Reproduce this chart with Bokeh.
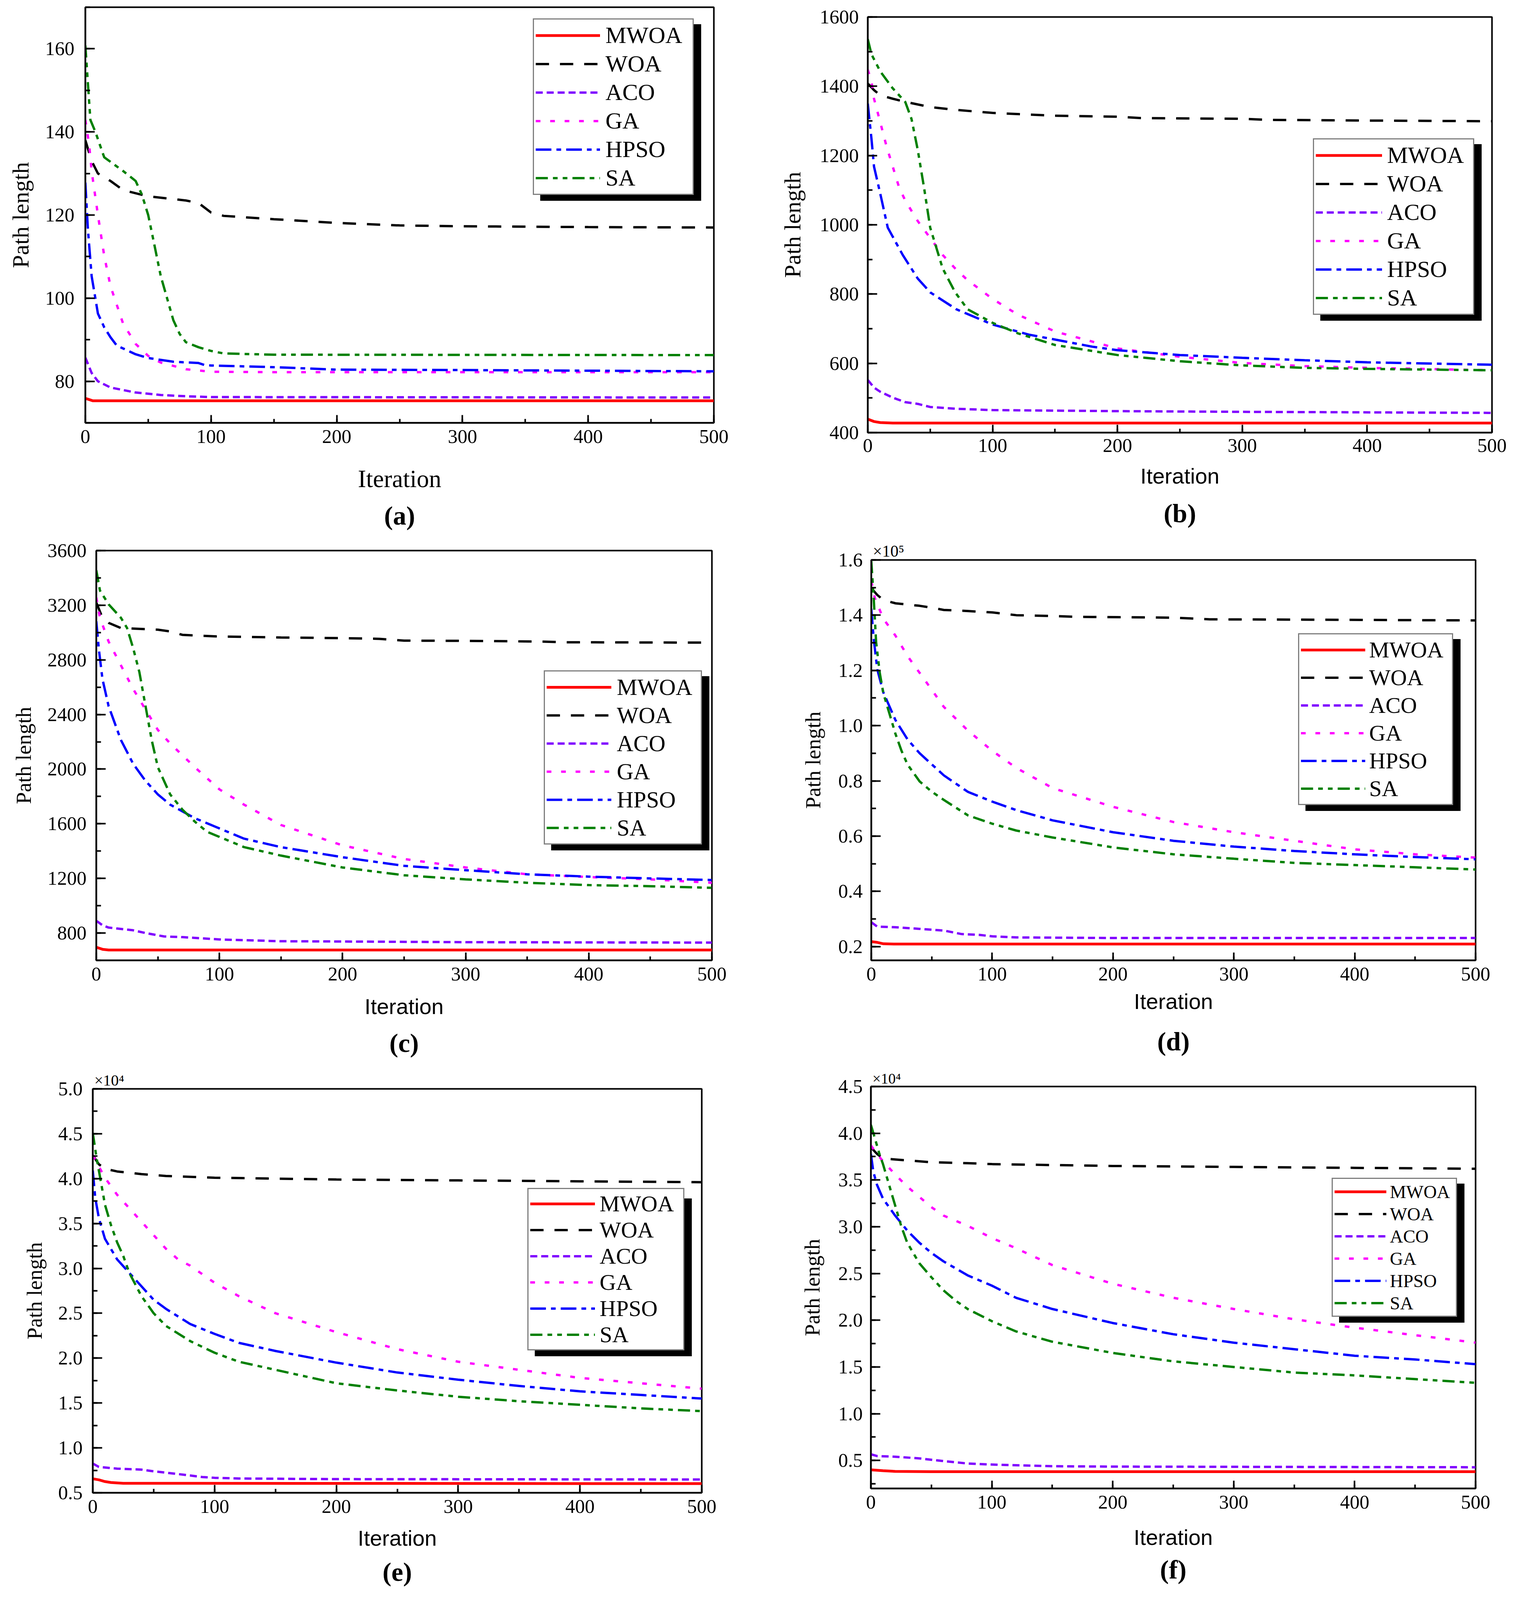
from bokeh.plotting import figure
from bokeh.models import (Range1d, SingleIntervalTicker, PrintfTickFormatter,
                          Legend, LegendItem, Title)
from bokeh.layouts import row, column
from bokeh.embed import file_html
from bokeh.resources import INLINE

# ---------------- series names and styles ----------------
NAMES = ["MWOA", "WOA", "ACO", "GA", "HPSO", "SA"]
COLORS = ["#FF0000", "#000000", "#8000FF", "#FF00FF", "#0000FF", "#008000"]
DASHES = ["solid", "34 28", "18 10", "12 25", "40 13 12 13", "31 13 12 13 12 13"]
WIDTHS = [7, 6, 6, 6, 6, 6]

# ---------------- panel (a) ----------------
A_IT_MWOA = [0, 3, 6, 500]
A_MWOA = [75.9, 75.6, 75.3, 75.3]
A_IT_WOA = [0, 5, 10, 20, 30, 50, 80, 90, 100, 110, 150, 200, 250, 300, 400, 500]
A_WOA = [138, 133, 130, 128.2, 126.0, 124.5, 123.5, 122.9, 120.6, 119.8, 119.0, 118.1, 117.5, 117.3, 117.1, 117.0]
A_IT_ACO = [0, 5, 10, 20, 40, 60, 80, 100, 500]
A_ACO = [85.7, 82, 80, 78.5, 77.3, 76.7, 76.4, 76.2, 76.1]
A_IT_GA = [0, 3, 5, 10, 15, 20, 30, 40, 50, 60, 80, 100, 150, 500]
A_GA = [142.9, 137, 130.6, 120, 110.2, 102.9, 93.9, 89, 86.1, 84.5, 82.9, 82.3, 82.2, 82.2]
A_IT_HPSO = [0, 2, 5, 10, 15, 20, 25, 40, 50, 70, 90, 95, 100, 150, 200, 300, 500]
A_HPSO = [127.8, 116.7, 105.3, 96.3, 93, 90.6, 88.6, 86.5, 85.6, 84.7, 84.4, 83.9, 83.8, 83.4, 82.8, 82.7, 82.4]
A_IT_SA = [0, 2, 4, 8, 15, 30, 40, 45, 50, 55, 60, 70, 75, 80, 90, 100, 110, 150, 500]
A_SA = [160.8, 151.8, 142.9, 140, 133.9, 130.6, 128.2, 124.9, 120, 112.7, 105.3, 94.7, 91.4, 89.4, 88.2, 87.3, 86.7, 86.4, 86.3]

# ---------------- panel (b) ----------------
B_IT_MWOA = [0, 5, 10, 20, 500]
B_MWOA = [439, 432, 429, 427.5, 427.5]
B_IT_WOA = [0, 5, 10, 20, 30, 50, 70, 100, 150, 200, 220, 300, 320, 400, 500]
B_WOA = [1408, 1389, 1374, 1364, 1355, 1340, 1332, 1323, 1315, 1312, 1308, 1306, 1303, 1301, 1299]
B_IT_ACO = [0, 5, 10, 20, 30, 40, 50, 70, 100, 200, 300, 500]
B_ACO = [552, 530, 518, 501, 488, 483, 474, 469, 465, 462, 460, 457]
B_IT_GA = [0, 3, 5, 10, 15, 20, 25, 30, 40, 50, 60, 70, 80, 100, 120, 150, 200, 250, 300, 350, 400, 500]
B_GA = [1448, 1413, 1364, 1296, 1227, 1168, 1109, 1070, 1011, 962, 913, 874, 840, 786, 741, 692, 643, 619, 601, 592, 587, 580]
B_IT_HPSO = [0, 3, 5, 10, 16, 28, 40, 50, 71, 100, 129, 180, 200, 250, 300, 350, 400, 500]
B_HPSO = [1350, 1247, 1168, 1090, 992, 913, 845, 805, 756, 712, 683, 648, 638, 624, 616, 609, 603, 596]
B_IT_SA = [0, 3, 10, 20, 30, 35, 40, 45, 50, 60, 70, 80, 100, 120, 150, 200, 250, 300, 350, 400, 500]
B_SA = [1536, 1492, 1443, 1394, 1355, 1306, 1217, 1109, 992, 874, 805, 756, 717, 687, 653, 624, 606, 594, 587, 584, 580]

# ---------------- panel (c) ----------------
C_IT_MWOA = [0, 5, 10, 500]
C_MWOA = [696, 681, 676, 676]
C_IT_WOA = [0, 5, 10, 20, 50, 60, 70, 100, 150, 200, 230, 250, 300, 360, 380, 500]
C_WOA = [3220, 3108, 3071, 3033, 3021, 3008, 2983, 2971, 2964, 2959, 2954, 2941, 2939, 2934, 2929, 2926]
C_IT_ACO = [0, 5, 10, 30, 40, 55, 70, 100, 150, 200, 300, 500]
C_ACO = [890, 857, 840, 820, 800, 775, 770, 753, 740, 738, 733, 730]
C_IT_GA = [0, 3, 10, 20, 30, 40, 50, 60, 80, 100, 120, 150, 200, 250, 300, 350, 400, 450, 500]
C_GA = [3257, 3108, 2934, 2760, 2586, 2436, 2287, 2188, 2014, 1852, 1740, 1591, 1442, 1342, 1280, 1230, 1210, 1193, 1168]
C_IT_HPSO = [0, 2, 5, 10, 15, 20, 30, 40, 50, 60, 80, 100, 120, 150, 200, 250, 300, 350, 400, 450, 500]
C_HPSO = [3083, 2884, 2660, 2461, 2337, 2213, 2038, 1914, 1815, 1740, 1641, 1566, 1491, 1429, 1355, 1292, 1260, 1230, 1213, 1200, 1188]
C_IT_SA = [0, 3, 10, 20, 25, 30, 35, 40, 45, 50, 60, 70, 80, 90, 100, 120, 150, 200, 250, 300, 350, 400, 450, 500]
C_SA = [3456, 3307, 3207, 3108, 3033, 2884, 2710, 2461, 2213, 2014, 1815, 1703, 1616, 1541, 1504, 1429, 1367, 1280, 1223, 1193, 1168, 1151, 1143, 1131]

# ---------------- panel (d)  (values in units of 1e5) ----------------
D_IT_MWOA = [0, 5, 10, 20, 500]
D_MWOA = [0.218, 0.215, 0.210, 0.209, 0.209]
D_IT_WOA = [0, 5, 10, 20, 40, 50, 60, 80, 100, 120, 150, 170, 250, 280, 350, 500]
D_WOA = [1.498, 1.473, 1.455, 1.443, 1.434, 1.427, 1.419, 1.415, 1.410, 1.400, 1.397, 1.394, 1.391, 1.385, 1.384, 1.381]
D_IT_ACO = [0, 5, 20, 40, 60, 75, 90, 100, 120, 200, 500]
D_ACO = [0.288, 0.272, 0.270, 0.264, 0.258, 0.245, 0.242, 0.237, 0.233, 0.231, 0.231]
D_IT_GA = [0, 3, 10, 20, 30, 40, 50, 60, 80, 100, 120, 150, 200, 250, 300, 350, 400, 450, 500]
D_GA = [1.523, 1.461, 1.387, 1.326, 1.252, 1.191, 1.130, 1.068, 0.982, 0.909, 0.847, 0.774, 0.706, 0.651, 0.614, 0.583, 0.552, 0.534, 0.522]
D_IT_HPSO = [0, 2, 5, 10, 20, 30, 40, 50, 60, 80, 100, 120, 150, 200, 250, 300, 350, 400, 450, 500]
D_HPSO = [1.424, 1.314, 1.203, 1.12, 1.02, 0.95, 0.90, 0.86, 0.82, 0.76, 0.725, 0.694, 0.657, 0.614, 0.583, 0.562, 0.546, 0.534, 0.524, 0.516]
D_IT_SA = [0, 2, 4, 7, 10, 15, 20, 25, 30, 40, 50, 60, 80, 100, 120, 150, 200, 250, 300, 350, 400, 450, 500]
D_SA = [1.596, 1.461, 1.302, 1.191, 1.117, 1.044, 0.970, 0.909, 0.859, 0.798, 0.761, 0.731, 0.675, 0.645, 0.620, 0.595, 0.559, 0.534, 0.518, 0.503, 0.495, 0.487, 0.479]

# ---------------- panel (e)  (values in units of 1e4) ----------------
E_IT_MWOA = [0, 5, 10, 15, 25, 500]
E_MWOA = [0.656, 0.644, 0.625, 0.614, 0.606, 0.602]
E_IT_WOA = [0, 5, 10, 20, 40, 60, 100, 150, 200, 300, 400, 500]
E_WOA = [4.26, 4.16, 4.11, 4.08, 4.05, 4.03, 4.01, 4.00, 3.99, 3.98, 3.97, 3.96]
E_IT_ACO = [0, 5, 20, 40, 50, 60, 80, 90, 100, 120, 200, 500]
E_ACO = [0.826, 0.788, 0.769, 0.758, 0.739, 0.724, 0.693, 0.675, 0.667, 0.659, 0.652, 0.648]
E_IT_GA = [0, 10, 20, 30, 40, 50, 60, 70, 80, 100, 120, 150, 200, 250, 300, 350, 400, 450, 500]
E_GA = [4.26, 4.01, 3.82, 3.67, 3.52, 3.37, 3.22, 3.10, 3.03, 2.84, 2.69, 2.50, 2.29, 2.10, 1.96, 1.87, 1.78, 1.72, 1.66]
E_IT_HPSO = [0, 2, 5, 10, 20, 30, 40, 50, 60, 80, 100, 120, 150, 200, 250, 300, 350, 400, 450, 500]
E_HPSO = [4.09, 3.79, 3.56, 3.33, 3.10, 2.95, 2.80, 2.65, 2.55, 2.38, 2.27, 2.17, 2.08, 1.95, 1.84, 1.76, 1.69, 1.63, 1.59, 1.55]
E_IT_SA = [0, 3, 7, 10, 15, 20, 25, 30, 40, 50, 60, 80, 100, 120, 150, 200, 250, 300, 350, 400, 450, 500]
E_SA = [4.51, 4.24, 3.94, 3.71, 3.48, 3.29, 3.14, 2.95, 2.69, 2.50, 2.36, 2.19, 2.06, 1.96, 1.87, 1.72, 1.64, 1.57, 1.52, 1.48, 1.44, 1.41]

# ---------------- panel (f)  (values in units of 1e4) ----------------
F_IT_MWOA = [0, 10, 20, 50, 500]
F_MWOA = [0.40, 0.39, 0.383, 0.38, 0.38]
F_IT_WOA = [0, 5, 10, 20, 50, 80, 100, 200, 300, 400, 500]
F_WOA = [3.85, 3.78, 3.73, 3.72, 3.69, 3.68, 3.67, 3.65, 3.64, 3.63, 3.62]
F_IT_ACO = [0, 5, 20, 40, 60, 80, 100, 150, 200, 500]
F_ACO = [0.566, 0.547, 0.540, 0.522, 0.493, 0.467, 0.456, 0.438, 0.434, 0.427]
F_IT_GA = [0, 5, 10, 20, 30, 40, 50, 60, 80, 100, 120, 150, 200, 250, 300, 350, 400, 450, 500]
F_GA = [3.87, 3.78, 3.70, 3.56, 3.43, 3.32, 3.21, 3.12, 3.01, 2.88, 2.77, 2.59, 2.39, 2.24, 2.12, 2.01, 1.92, 1.84, 1.76]
F_IT_HPSO = [0, 2, 5, 10, 20, 30, 40, 50, 60, 80, 100, 120, 150, 200, 250, 300, 350, 400, 450, 500]
F_HPSO = [3.78, 3.59, 3.45, 3.30, 3.12, 2.96, 2.83, 2.72, 2.63, 2.48, 2.37, 2.24, 2.12, 1.97, 1.85, 1.76, 1.69, 1.62, 1.58, 1.53]
F_IT_SA = [0, 3, 7, 10, 15, 20, 25, 30, 40, 50, 60, 70, 80, 100, 120, 150, 200, 250, 300, 350, 400, 450, 500]
F_SA = [4.09, 3.96, 3.78, 3.67, 3.45, 3.23, 3.01, 2.83, 2.61, 2.46, 2.32, 2.21, 2.12, 1.99, 1.88, 1.77, 1.65, 1.56, 1.50, 1.44, 1.41, 1.37, 1.33]

SERIF = "Liberation Serif"
SANS = "Liberation Sans"

# ---------------- layout / style settings per panel ----------------
# (the photographed area is 3904 x 4096, so the 2x3 grid is fitted into that height)
PANELS = [
    dict(cap="(a)", H=1376, bl=218, br=117, bt=18, bb=294, ymin=70, ymax=170, yint=20, fmt=None, mult=None, mf=0,
         ylf=60, yls=27, yts=28, xfont=SERIF, xlf=63, xls=54, xts=18,
         leg=(1146, 583), lf=60, gw=165, pitch=73, lst=14, lw=219, off=-80, tst=32,
         series=[(A_IT_MWOA, A_MWOA), (A_IT_WOA, A_WOA), (A_IT_ACO, A_ACO), (A_IT_GA, A_GA), (A_IT_HPSO, A_HPSO), (A_IT_SA, A_SA)]),
    dict(cap="(b)", H=1376, bl=277, br=69, bt=43, bb=269, ymin=400, ymax=1600, yint=200, fmt=None, mult=None, mf=0,
         ylf=60, yls=34, yts=23, xfont=SANS, xlf=56, xls=27, xts=16,
         leg=(1140, 301), lf=60, gw=170, pitch=73, lst=13, lw=216, off=-97, tst=43,
         series=[(B_IT_MWOA, B_MWOA), (B_IT_WOA, B_WOA), (B_IT_ACO, B_ACO), (B_IT_GA, B_GA), (B_IT_HPSO, B_HPSO), (B_IT_SA, B_SA)]),
    dict(cap="(c)", H=1361, bl=246, br=122, bt=33, bb=279, ymin=600, ymax=3600, yint=400, fmt=None, mult=None, mf=0,
         ylf=55, yls=28, yts=25, xfont=SANS, xlf=56, xls=32, xts=18,
         leg=(1146, 296), lf=59, gw=166, pitch=72, lst=14, lw=211, off=-98, tst=38,
         series=[(C_IT_MWOA, C_MWOA), (C_IT_WOA, C_WOA), (C_IT_ACO, C_ACO), (C_IT_GA, C_GA), (C_IT_HPSO, C_HPSO), (C_IT_SA, C_SA)]),
    dict(cap="(d)", H=1361, bl=286, br=111, bt=57, bb=279, ymin=0.15, ymax=1.6, yint=0.2, fmt="%.1f", mult="\u00d710\u2075", mf=42,
         ylf=55, yls=31, yts=22, xfont=SANS, xlf=56, xls=19, xts=18,
         leg=(1093, 397), lf=58, gw=165, pitch=71, lst=10, lw=208, off=-80, tst=56,
         series=[(D_IT_MWOA, D_MWOA), (D_IT_WOA, D_WOA), (D_IT_ACO, D_ACO), (D_IT_GA, D_GA), (D_IT_HPSO, D_HPSO), (D_IT_SA, D_SA)]),
    dict(cap="(e)", H=1343, bl=237, br=148, bt=50, bb=259, ymin=0.5, ymax=5.0, yint=0.5, fmt="%.1f", mult="\u00d710\u2074", mf=40,
         ylf=55, yls=27, yts=26, xfont=SANS, xlf=56, xls=30, xts=18,
         leg=(1113, 364), lf=58, gw=166, pitch=65, lst=12, lw=210, off=-80, tst=25,
         series=[(E_IT_MWOA, E_MWOA), (E_IT_WOA, E_WOA), (E_IT_ACO, E_ACO), (E_IT_GA, E_GA), (E_IT_HPSO, E_HPSO), (E_IT_SA, E_SA)]),
    dict(cap="(f)", H=1343, bl=285, br=111, bt=43, bb=270, ymin=0.2, ymax=4.5, yint=0.5, fmt="%.1f", mult="\u00d710\u2074", mf=38,
         ylf=55, yls=33, yts=21, xfont=SANS, xlf=56, xls=39, xts=18,
         leg=(1180, 439), lf=47, gw=133, pitch=57, lst=9, lw=165, off=-80, tst=17,
         series=[(F_IT_MWOA, F_MWOA), (F_IT_WOA, F_WOA), (F_IT_ACO, F_ACO), (F_IT_GA, F_GA), (F_IT_HPSO, F_HPSO), (F_IT_SA, F_SA)]),
]

W = 1944


def make_panel(c):
    p = figure(width=W, height=c["H"], x_range=Range1d(0, 500), y_range=Range1d(c["ymin"], c["ymax"]),
               output_backend="svg", toolbar_location=None, title=None,
               min_border_left=c["bl"], min_border_right=c["br"],
               min_border_top=c["bt"], min_border_bottom=c["bb"],
               background_fill_color="white", border_fill_color="white")
    p.xgrid.visible = False
    p.ygrid.visible = False
    p.outline_line_color = "black"
    p.outline_line_width = 4
    p.outline_line_alpha = 1.0

    rends = []
    for (xs, ys), col, dash, lw in zip(c["series"], COLORS, DASHES, WIDTHS):
        r = p.line(xs, ys, line_color=col, line_width=lw, line_dash=dash)
        rends.append(r)

    xa = p.xaxis[0]
    ya = p.yaxis[0]
    xa.ticker = SingleIntervalTicker(interval=100, num_minor_ticks=2)
    ya.ticker = SingleIntervalTicker(interval=c["yint"], num_minor_ticks=2)
    if c["fmt"]:
        ya.formatter = PrintfTickFormatter(format=c["fmt"])
    for ax in (xa, ya):
        ax.axis_line_width = 4
        ax.axis_line_color = "black"
        ax.major_tick_out = 0
        ax.minor_tick_out = 0
        ax.major_tick_line_width = 4
        ax.minor_tick_line_width = 4
        ax.major_tick_line_color = "black"
        ax.minor_tick_line_color = "black"
        ax.major_label_text_font = SERIF
        ax.major_label_text_font_size = "50px"
        ax.major_label_text_color = "black"
        ax.axis_label_text_font_style = "normal"
        ax.axis_label_text_color = "black"
    xa.major_tick_in = 20
    xa.minor_tick_in = 10
    ya.major_tick_in = 24
    ya.minor_tick_in = 12
    xa.axis_label = "Iteration"
    xa.axis_label_text_font = c["xfont"]
    xa.axis_label_text_font_size = "%dpx" % c["xlf"]
    xa.axis_label_standoff = c["xls"]
    xa.major_label_standoff = c["xts"]
    ya.axis_label = "Path length"
    ya.axis_label_text_font = SERIF
    ya.axis_label_text_font_size = "%dpx" % c["ylf"]
    ya.axis_label_standoff = c["yls"]
    ya.major_label_standoff = c["yts"]

    # legend with a solid black drop shadow (a second, black legend offset behind it)
    lx, ly = c["leg"]
    for shadow in (True, False):
        items = [LegendItem(label=(" " if shadow else n), renderers=[r]) for n, r in zip(NAMES, rends)]
        lg = Legend(items=items,
                    location=(lx + 19, ly - 15) if shadow else (lx, ly),
                    label_text_font=SERIF,
                    label_text_font_size="%dpx" % c["lf"],
                    label_text_color="black",
                    glyph_width=c["gw"], glyph_height=c["pitch"], label_height=c["pitch"],
                    label_width=c["lw"], label_standoff=c["lst"],
                    padding=4, spacing=0, margin=0,
                    border_line_color="black", border_line_width=3,
                    background_fill_color="black" if shadow else "white",
                    background_fill_alpha=1.0)
        p.add_layout(lg)

    if c["mult"]:
        p.add_layout(Title(text=c["mult"], align="left", text_font=SERIF, text_font_size="%dpx" % c["mf"],
                           text_font_style="normal", text_color="black", offset=4, standoff=0), "above")

    p.add_layout(Title(text=c["cap"], align="center", text_font=SERIF, text_font_size="68px",
                       text_font_style="bold", text_color="black", offset=c["off"],
                       standoff=c["tst"]), "below")
    return p


figs = [make_panel(c) for c in PANELS]
layout = column(row(column(figs[0]), column(figs[1])),
                row(column(figs[2]), column(figs[3])),
                row(column(figs[4]), column(figs[5])))

with open("out.html", "w") as f:
    f.write(file_html(layout, INLINE))
